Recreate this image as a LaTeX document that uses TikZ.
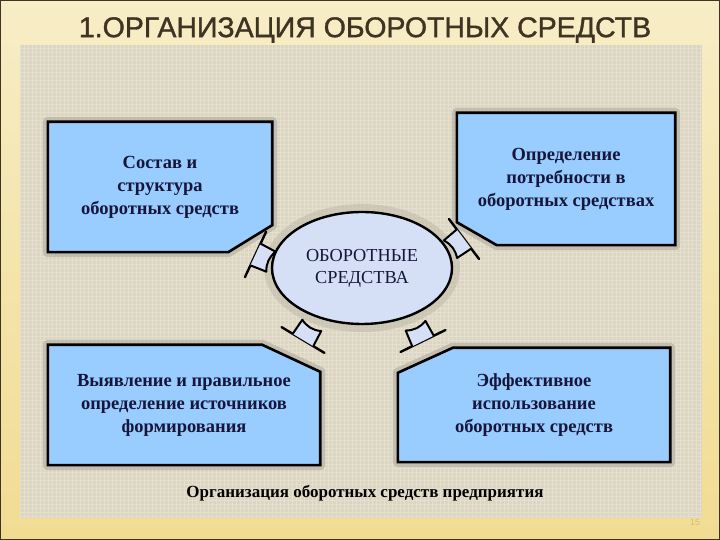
\documentclass[tikz,border=0pt]{standalone}
\usepackage{fontspec}
\setmainfont{Liberation Serif}
\newfontfamily\headfont[FakeBold=1.2]{Liberation Sans}
\newfontfamily\pagefont{Liberation Sans}
\usetikzlibrary{shapes.geometric, backgrounds}

\definecolor{slideyellow}{HTML}{F7EDC6}
\definecolor{slideband}{HTML}{F1DC92}
\definecolor{linen}{HTML}{DCD5C2}
\definecolor{linengrid}{HTML}{E5DFCF}
\definecolor{boxblue}{HTML}{99CCFF}
\definecolor{coreblue}{HTML}{D5DFF6}
\definecolor{haze}{HTML}{B7B2A4}
\definecolor{inkblue}{HTML}{16163A}
\definecolor{titlebrown}{HTML}{3E3424}
\definecolor{pagegold}{HTML}{D8BE66}

\begin{document}
\begin{tikzpicture}[x=1pt, y=1pt]

        % Setup the styles for the boxes and the links
        \tikzset{box style/.style={align=center,
                                   inner sep=0pt,
                                   text=inkblue,
                                   font=\bfseries\fontsize{18.5}{23}\selectfont
                                   },
                 box line/.style={draw=black, fill=boxblue, line width=2.6pt, line join=miter},
                 halo/.style={draw=haze, line width=10pt, line join=round, opacity=.7},
                 link/.pic={
                     \draw[line width=2.4pt, line cap=round] (-25,0) -- (25,0);
                     \draw[line width=2pt, fill=coreblue, line join=round]
                         (-12,0) -- (-11,17) to[bend right=25] (11,17) -- (12,0);
                 }}

        \useasboundingbox (0,0) rectangle (720,540);

        % Draw the title, the boxes and the circle
        \node[font=\headfont\fontsize{28.5}{34}\selectfont, text=titlebrown] at (365,510) (Title)
            {1.ОРГАНИЗАЦИЯ ОБОРОТНЫХ СРЕДСТВ};

        \node[box style, minimum width=224, minimum height=130] at (160,353) (Structure)
            {Состав и\\структура\\оборотных средств};
        \node[box style, minimum width=218, minimum height=132] at (566,361) (Demand)
            {Определение\\потребности в\\оборотных средствах};
        \node[box style, minimum width=272, minimum height=120] at (184,135) (Sources)
            {Выявление и правильное\\определение источников\\формирования};
        \node[box style, minimum width=272, minimum height=114] at (534,135) (Usage)
            {Эффективное\\использование\\оборотных средств};

        \node[ellipse, draw=black, fill=coreblue, line width=2.4pt,
              minimum width=180, minimum height=112, align=center,
              font=\fontsize{18.3}{22}\selectfont, text=inkblue] at (362,272) (Assets)
            {ОБОРОТНЫЕ\\СРЕДСТВА};

        \node[font=\bfseries\fontsize{17}{20}\selectfont] at (365,47) (Caption)
            {Организация оборотных средств предприятия};
        \node[font=\pagefont\fontsize{9}{10}\selectfont, text=pagegold] at (695,18) (Page) {15};

        % Draw the slide, the panel and the box outlines behind the text
        \begin{scope}[on background layer]
            \shade[top color=slideyellow, bottom color=slideband] (0,0) rectangle (720,540);
            \fill[linen] (20,22) rectangle (702,495);
            \draw[linengrid, line width=.5pt, step=4pt] (20,22) grid (702,495);
            \draw[titlebrown, line width=1.5pt] (0,0) rectangle (720,540);

            \foreach \s in {halo, box line}{
                \draw[\s] (Structure.north west) -- (Structure.north east)
                    -- ([yshift=27]Structure.south east) -- ([xshift=-44]Structure.south east)
                    -- (Structure.south west) -- cycle;
                \draw[\s] (Demand.north west) -- (Demand.north east) -- (Demand.south east)
                    -- ([xshift=40]Demand.south west) -- ([yshift=23]Demand.south west) -- cycle;
                \draw[\s] (Sources.north west) -- ([xshift=-58]Sources.north east)
                    -- ([yshift=-27]Sources.north east) -- (Sources.south east)
                    -- (Sources.south west) -- cycle;
                \draw[\s] ([xshift=55]Usage.north west) -- (Usage.north east) -- (Usage.south east)
                    -- (Usage.south west) -- ([yshift=-25]Usage.north west) -- cycle;
            }
            \draw[halo, opacity=.45] (Assets.center) ellipse (93 and 59);
        \end{scope}

        % Connect the boxes with the circle
        \pic[rotate=-115] at (255.5,285.5) {link};
        \pic[rotate=127]  at (464,301)     {link};
        \pic[rotate=-31]  at (303,200)     {link};
        \pic[rotate=26]   at (423,199)     {link};
      \end{tikzpicture}
\end{document}
